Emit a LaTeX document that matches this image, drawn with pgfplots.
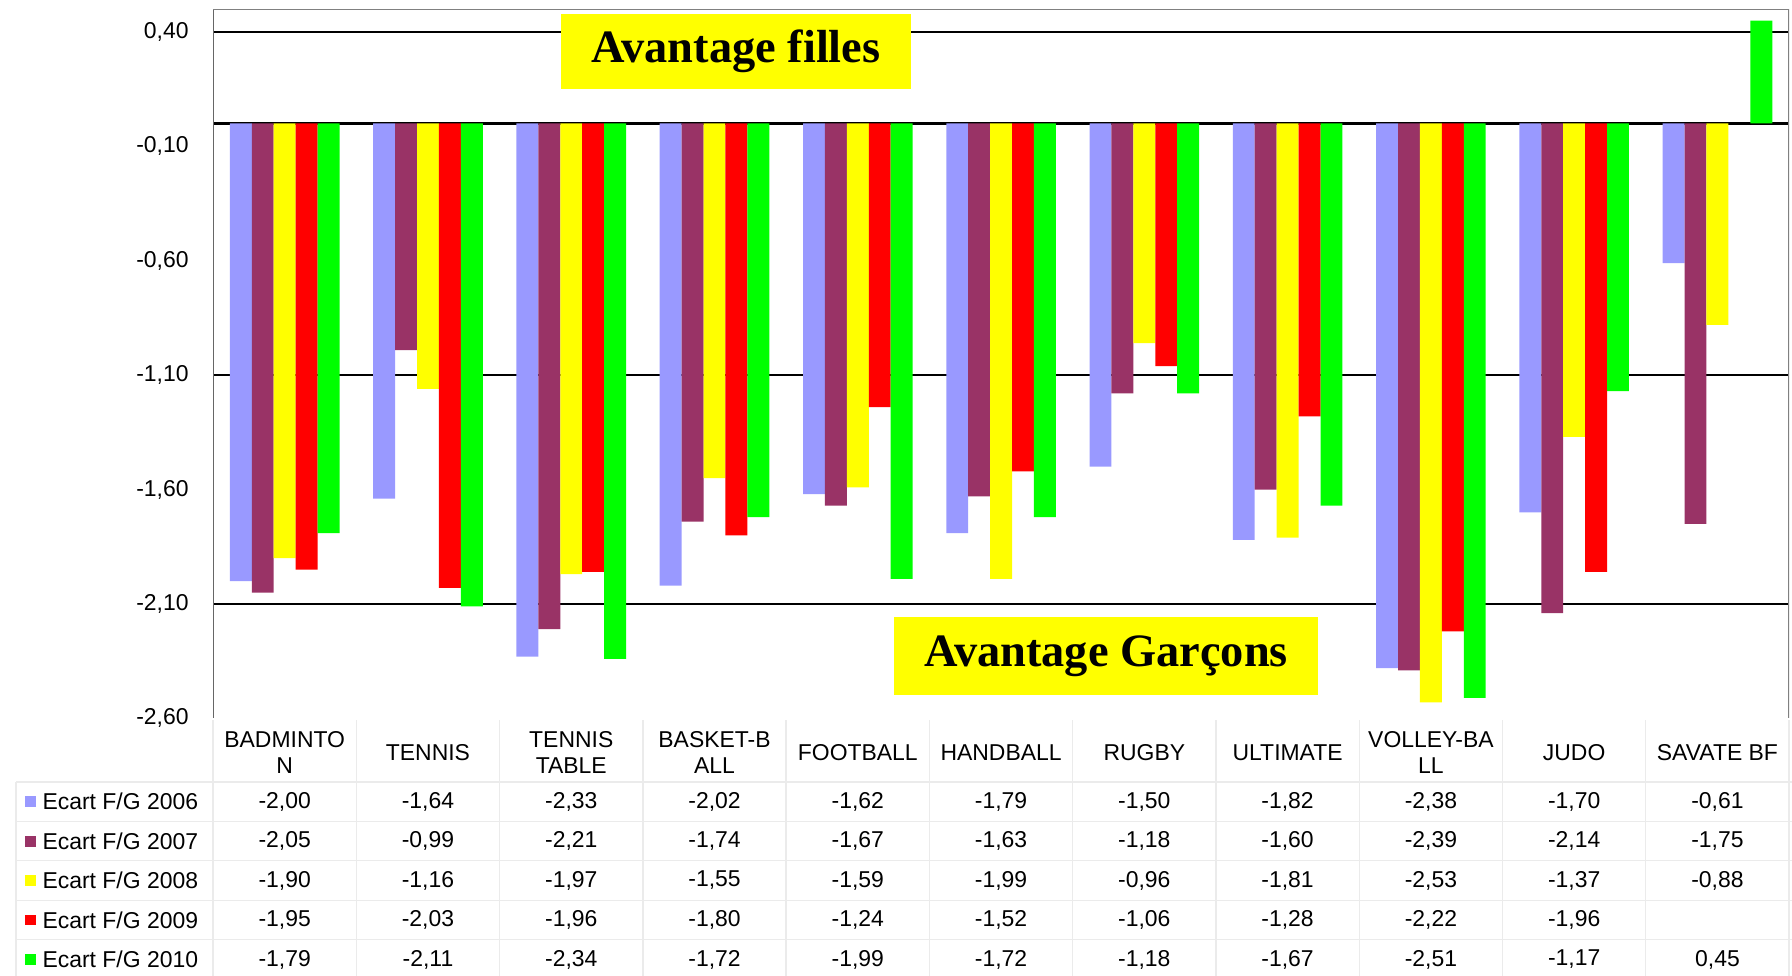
\documentclass[border=0pt]{standalone}
\usepackage{fontspec}
\setmainfont{Liberation Sans}
\newfontfamily\titlefont{Liberation Serif}
\usepackage{pgfplots}
\usepackage{pgfplotstable}
\pgfplotsset{compat=1.18}

\definecolor{c2006}{HTML}{9999FF}
\definecolor{c2007}{HTML}{993366}
\definecolor{c2008}{HTML}{FFFF00}
\definecolor{c2009}{HTML}{FF0000}
\definecolor{c2010}{HTML}{00FF00}

% one row per sport, one column per year
\pgfplotstableread{
y2006 y2007 y2008 y2009 y2010
-2.00 -2.05 -1.90 -1.95 -1.79
-1.64 -0.99 -1.16 -2.03 -2.11
-2.33 -2.21 -1.97 -1.96 -2.34
-2.02 -1.74 -1.55 -1.80 -1.72
-1.62 -1.67 -1.59 -1.24 -1.99
-1.79 -1.63 -1.99 -1.52 -1.72
-1.50 -1.18 -0.96 -1.06 -1.18
-1.82 -1.60 -1.81 -1.28 -1.67
-2.38 -2.39 -2.53 -2.22 -2.51
-1.70 -2.14 -1.37 -1.96 -1.17
-0.61 -1.75 -0.88 nan 0.45
}\data

\begin{document}
\fontsize{8.6}{10}\selectfont
\begin{tikzpicture}
\useasboundingbox (0,0) rectangle (672pt,-366pt);
\begin{axis}[
    at={(79.9pt,-3.4pt)}, anchor=north west,
    scale only axis, width=591pt, height=266pt,
    xmin=-0.5, xmax=10.5, ymin=-2.6, ymax=0.5,
    axis line style={draw=none},
    ybar, bar width=0.153,
    major tick length=0pt,
    xtick={0,...,10},
    xticklabels={BADMINTO\\N, TENNIS, TENNIS\\TABLE, BASKET-B\\ALL, FOOTBALL,
        HANDBALL, RUGBY, ULTIMATE, VOLLEY-BA\\LL, JUDO, SAVATE BF},
    xticklabel style={anchor=center, align=center, yshift=-12.75pt,
        font=\fontsize{8.6}{9.6}\selectfont},
    ytick={0.4,-0.1,-0.6,-1.1,-1.6,-2.1,-2.6},
    yticklabel style={anchor=east, inner sep=0pt, xshift=-9pt},
    /pgf/number format/assume math mode=true,
    yticklabel={\pgfmathprintnumber[fixed, fixed zerofill, precision=2, use comma]{\tick}},
    extra y ticks={0.4,-1.1,-2.1},
    extra y tick labels={},
    extra y tick style={ymajorgrids=true, major grid style={black, line width=0.65pt}},
]
\draw[black, line width=0.9pt] (axis cs:-0.5,0) -- (axis cs:10.5,0);
\addplot[fill=c2006, draw=none, bar shift=-0.306] table[x expr=\coordindex, y=y2006] {\data};
\addplot[fill=c2007, draw=none, bar shift=-0.153] table[x expr=\coordindex, y=y2007] {\data};
\addplot[fill=c2008, draw=none, bar shift=0] table[x expr=\coordindex, y=y2008] {\data};
\addplot[fill=c2009, draw=none, bar shift=0.153] table[x expr=\coordindex, y=y2009] {\data};
\addplot[fill=c2010, draw=none, bar shift=0.306] table[x expr=\coordindex, y=y2010] {\data};
\draw[black!60, line width=0.8pt] (rel axis cs:0,0) -- (rel axis cs:0,1);
\draw[gray, line width=0.8pt] (rel axis cs:0,1) -- (rel axis cs:1,1) -- (rel axis cs:1,0);
\end{axis}

% data table below the chart
\foreach \k in {0,...,11}
    \draw[black!8, line width=0.5pt] ({79.9pt+53.727pt*\k},-270pt) -- ({79.9pt+53.727pt*\k},-366pt);
\draw[black!8, line width=0.5pt] (6pt,-293.2pt) -- (6pt,-366pt);
\foreach \r in {0,...,4}
    \draw[black!8, line width=0.5pt] (6pt,{-293.2pt-14.8pt*\r}) -- (672pt,{-293.2pt-14.8pt*\r});

\foreach \s/\yr [count=\r from 0] in {y2006/2006, y2007/2007, y2008/2008, y2009/2009, y2010/2010} {
    \node[fill=c\yr, minimum size=4.1pt, inner sep=0pt] at (11.4pt,{-300.6pt-14.8pt*\r}) {};
    \node[anchor=west, inner sep=0pt] at (15.75pt,{-300.6pt-14.8pt*\r}) {Ecart F/G \yr};
    \foreach \c in {0,...,10} {
        \pgfplotstablegetelem{\c}{\s}\of\data
        \let\v\pgfplotsretval
        \pgfmathfloatparsenumber{\v}
        \pgfmathfloatifflags{\pgfmathresult}{3}{}{
            \node[inner sep=0pt] at ({79.9pt+53.727pt*(\c+0.5)},{-300.6pt-14.8pt*\r})
                {\pgfmathprintnumber[fixed, fixed zerofill, precision=2, use comma, assume math mode=true]{\v}};
        }
    }
}

% annotation boxes
\node[fill=c2008, minimum width=131pt, minimum height=28pt, inner sep=0pt,
    font=\titlefont\bfseries\fontsize{17.4}{20}\selectfont] at (276pt,-19.3pt) {Avantage filles};
\node[fill=c2008, minimum width=159pt, minimum height=29pt, inner sep=0pt,
    font=\titlefont\bfseries\fontsize{17.4}{20}\selectfont] at (414.75pt,-246pt) {Avantage Garçons};
\end{tikzpicture}
\end{document}
